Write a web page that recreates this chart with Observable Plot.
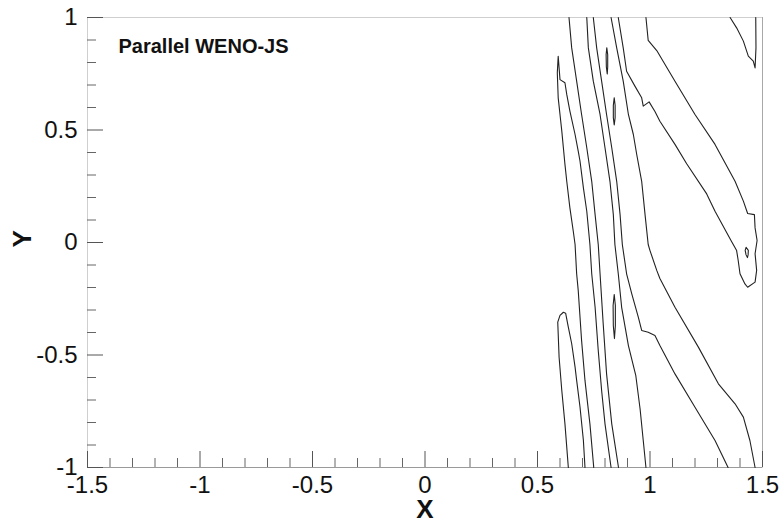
<!DOCTYPE html>
<html><head><meta charset="utf-8">
<script src="https://cdn.jsdelivr.net/npm/d3@7"></script>
<script src="https://cdn.jsdelivr.net/npm/@observablehq/plot@0.6"></script>
<style>body{margin:0;background:#fff;} svg{display:block;}</style>
</head><body><div id="chart"></div>
<script>
const titleText = "Parallel WENO-JS";
const xMajor = [-1.5, -1, -0.5, 0, 0.5, 1, 1.5];
const yMajor = [-1, -0.5, 0, 0.5, 1];
const xMinor = [-1.4,-1.3,-1.2,-1.1,-0.9,-0.8,-0.7,-0.6,-0.4,-0.3,-0.2,-0.1,0.1,0.2,0.3,0.4,0.6,0.7,0.8,0.9,1.1,1.2,1.3,1.4];
const yMinor = [-0.9,-0.8,-0.7,-0.6,-0.4,-0.3,-0.2,-0.1,0.1,0.2,0.3,0.4,0.6,0.7,0.8,0.9];

// contour polylines [x, y]
const tipContour = [[0.750,-1.000],[0.733,-0.806],[0.711,-0.613],[0.696,-0.436],[0.681,-0.213],[0.674,-0.139],[0.667,-0.009],[0.659,0.050],[0.644,0.154],[0.630,0.272],[0.622,0.347],[0.615,0.421],[0.608,0.495],[0.600,0.569],[0.592,0.643],[0.588,0.754],[0.592,0.828],
  [0.600,0.724],[0.622,0.710],[0.630,0.658],[0.644,0.584],[0.667,0.480],[0.681,0.406],[0.689,0.361],[0.704,0.243],[0.719,0.139],[0.733,-0.009],[0.741,-0.139],[0.756,-0.288],[0.770,-0.480],[0.785,-0.658],[0.800,-0.806],[0.827,-1.000]];
const lineA = [[0.640,1.000],[0.652,0.865],[0.674,0.717],[0.696,0.569],[0.719,0.421],[0.741,0.272],[0.756,0.124],[0.770,-0.009],[0.778,-0.139],[0.792,-0.361],[0.807,-0.584],[0.830,-0.806],[0.860,-1.000]];
const lineB = [[0.719,1.000],[0.726,0.865],[0.748,0.717],[0.778,0.569],[0.800,0.421],[0.822,0.272],[0.837,0.124],[0.844,-0.009],[0.859,-0.139],[0.874,-0.288],[0.904,-0.458],[0.937,-0.592],[0.956,-0.740],[0.970,-0.880],[0.982,-1.000]];
const lineE2 = [[0.748,1.000],[0.763,0.865],[0.785,0.717],[0.807,0.569],[0.830,0.421],[0.852,0.272],[0.867,0.124],[0.877,-0.009],[0.896,-0.139],[0.919,-0.228],[0.948,-0.332],[0.963,-0.391],[0.992,-0.399],[1.022,-0.413],[1.044,-0.458],[1.111,-0.584],[1.200,-0.732],[1.289,-0.880],[1.347,-1.000]];
const lineE1 = [[0.827,1.000],[0.852,0.865],[0.881,0.717],[0.904,0.569],[0.926,0.480],[0.941,0.391],[0.963,0.272],[0.978,0.124],[0.992,-0.009],[1.000,-0.036],[1.030,-0.124],[1.044,-0.160],[1.111,-0.288],[1.215,-0.465],[1.304,-0.628],[1.378,-0.717],[1.415,-0.776],[1.444,-0.880],[1.467,-1.000]];
const lineD = [[0.859,1.000],[0.881,0.865],[0.896,0.761],[0.933,0.695],[0.963,0.643],[0.970,0.606],[0.996,0.625],[1.022,0.582],[1.044,0.539],[1.111,0.436],[1.163,0.350],[1.252,0.216],[1.289,0.139],[1.360,0.009],[1.385,-0.036],[1.392,-0.080],[1.400,-0.139],[1.422,-0.184],[1.434,-0.199],[1.467,-0.176],[1.474,-0.124],[1.467,-0.050],[1.476,0.009],[1.467,0.065],[1.464,0.124],[1.434,0.129],[1.415,0.184],[1.378,0.272],[1.289,0.436],[1.200,0.569],[1.111,0.717],[1.030,0.853],[0.992,0.898],[0.982,1.000]];
const lobeTopRight = [[1.356,1.000],[1.385,0.954],[1.415,0.895],[1.437,0.828],[1.459,0.806],[1.467,0.776],[1.471,0.865],[1.470,1.000]];
const hookBottom = [[0.637,-1.000],[0.622,-0.806],[0.608,-0.658],[0.596,-0.510],[0.590,-0.354],[0.600,-0.324],[0.615,-0.310],[0.625,-0.314],[0.637,-0.376],[0.652,-0.450],[0.667,-0.554],[0.674,-0.613],[0.689,-0.732],[0.704,-0.880],[0.711,-1.000]];
const islandQ1 = [[0.808,0.865],[0.812,0.835],[0.812,0.780],[0.810,0.749],[0.806,0.780],[0.805,0.835],[0.808,0.865]];
const islandQ2 = [[0.841,0.643],[0.845,0.610],[0.845,0.555],[0.841,0.522],[0.837,0.555],[0.837,0.610],[0.841,0.643]];
const islandQ3 = [[0.841,-0.231],[0.846,-0.280],[0.846,-0.370],[0.842,-0.427],[0.837,-0.370],[0.836,-0.280],[0.841,-0.231]];
const islandQ4 = [[1.427,-0.022],[1.437,-0.035],[1.436,-0.055],[1.433,-0.067],[1.427,-0.055],[1.423,-0.035],[1.427,-0.022]];

const contourList = [["tip", tipContour], ["A", lineA], ["B", lineB], ["E2", lineE2], ["E1", lineE1], ["D", lineD], ["R", lobeTopRight], ["H", hookBottom], ["Q1", islandQ1], ["Q2", islandQ2], ["Q3", islandQ3], ["Q4", islandQ4]];
const rows = contourList.flatMap(([id, pts]) => pts.map(([x, y]) => ({id, x, y})));

const W = 782, H = 526, mL = 87, mR = 20, mT = 17, mB = 59;
const fw = W - mL - mR, fh = H - mT - mB;
const fmt = d => String(d);

const chart = Plot.plot({
  width: W, height: H,
  marginLeft: mL, marginRight: mR, marginTop: mT, marginBottom: mB,
  style: {fontFamily: "'Liberation Sans', Arial, sans-serif", background: "#fff", color: "#111"},
  x: {domain: [-1.5, 1.5], axis: null},
  y: {domain: [-1, 1], axis: null},
  marks: [
    Plot.frame({stroke: "#cfcfcf"}),
    Plot.ruleY([-1], {stroke: "#9a9a9a"}),
    Plot.ruleX([1.5], {stroke: "#a8a8a8"}),
    Plot.tickX(xMinor, {x: d => d, insetTop: fh - 9, stroke: "#666"}),
    Plot.tickX(xMajor, {x: d => d, insetTop: fh - 16, stroke: "#555"}),
    Plot.tickY(yMinor, {y: d => d, insetRight: fw - 9, stroke: "#666"}),
    Plot.tickY(yMajor, {y: d => d, insetRight: fw - 16, stroke: "#555"}),
    Plot.axisX({anchor: "bottom", ticks: xMajor, tickSize: 0, tickPadding: 8, tickFormat: fmt, fontSize: 24, label: null}),
    Plot.axisY({anchor: "left", ticks: yMajor, tickSize: 0, tickPadding: 10, tickFormat: fmt, fontSize: 24, label: null}),
    Plot.line(rows, {x: "x", y: "y", z: "id", stroke: "#222", strokeWidth: 1.1}),
    Plot.text([titleText], {frameAnchor: "top-left", dx: 31, dy: 21, textAnchor: "start", fontSize: 20, fontWeight: "bold", fill: "#111"}),
    Plot.text(["X"], {frameAnchor: "bottom", dy: 50, fontSize: 26, fontWeight: "bold", fill: "#111"}),
    Plot.text(["Y"], {frameAnchor: "left", dx: -65, dy: 5, rotate: -90, fontSize: 26, fontWeight: "bold", fill: "#111"})
  ]
});
document.getElementById("chart").appendChild(chart);
</script>
</body></html>
